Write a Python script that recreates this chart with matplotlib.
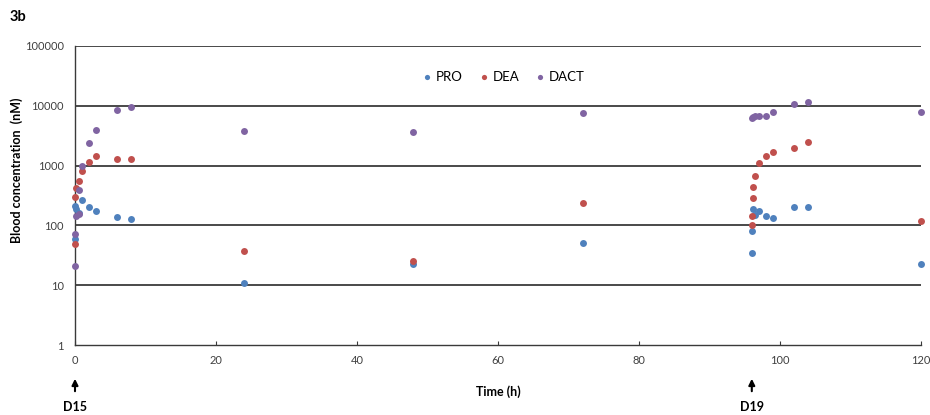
import matplotlib
matplotlib.use("Agg")
import matplotlib.pyplot as plt
from matplotlib.ticker import FixedLocator, FixedFormatter, NullLocator

plt.rcParams['font.family'] = ['Lato', 'DejaVu Sans']

series_names = ["PRO", "DEA", "DACT"]
colors = ["#4F81BD", "#C0504D", "#8064A2"]

pro_t = [0, 0, 0.17, 0.5, 1, 2, 3, 6, 8, 24, 48, 72, 96, 96, 96.1, 96.4, 97, 98, 99, 102, 104, 120]
pro_v = [59, 214, 188, 160, 266, 204, 176, 140, 128, 10.9, 23, 51, 34, 80, 190, 151, 176, 145, 134, 200, 200, 22.6]

dea_t = [0, 0, 0.1, 0.5, 1, 2, 3, 6, 8, 24, 48, 72, 96, 96, 96.1, 96.1, 96.4, 97, 98, 99, 102, 104, 120]
dea_v = [49, 295, 420, 550, 820, 1150, 1430, 1300, 1300, 37, 25.4, 237, 102, 142, 291, 440, 660, 1110, 1430, 1670, 1970, 2480, 119]

dact_t = [0, 0, 0.17, 0.5, 0.5, 1, 2, 3, 6, 8, 24, 48, 72, 96, 96.1, 96.4, 97, 98, 99, 102, 104, 120]
dact_v = [21, 71, 142, 155, 395, 980, 2360, 3940, 8500, 9700, 3800, 3700, 7600, 6300, 6500, 6700, 6850, 6700, 7780, 10700, 11700, 7900]

y_ticks = [1, 10, 100, 1000, 10000, 100000]
y_labels = ["1", "10", "100", "1000", "10000", "100000"]
x_ticks = [0, 20, 40, 60, 80, 100, 120]
x_labels = ["0", "20", "40", "60", "80", "100", "120"]

fig = plt.figure(figsize=(9.3, 4.15), dpi=100)
ax = fig.add_axes([75/930, 1-345/415, 846/930, 299/415])

for t, v, c, n in zip([pro_t, dea_t, dact_t], [pro_v, dea_v, dact_v], colors, series_names):
    ax.plot(t, v, 'o', color=c, markersize=5, markeredgewidth=0, label=n, zorder=3, clip_on=False)

ax.set_yscale('log')
ax.set_ylim(1, 100000)
ax.set_xlim(0, 120)
ax.yaxis.set_major_locator(FixedLocator(y_ticks))
ax.yaxis.set_major_formatter(FixedFormatter(y_labels))
ax.yaxis.set_minor_locator(NullLocator())
ax.xaxis.set_major_locator(FixedLocator(x_ticks))
ax.xaxis.set_major_formatter(FixedFormatter(x_labels))

for yv in y_ticks[1:]:
    ax.axhline(yv, color='#3a3a3a', lw=1.3, zorder=1)

for s in ['top', 'right']:
    ax.spines[s].set_visible(False)
ax.spines['left'].set_color('#3a3a3a')
ax.spines['bottom'].set_color('#3a3a3a')
ax.spines['left'].set_linewidth(1.0)
ax.spines['bottom'].set_linewidth(1.0)

ax.tick_params(axis='y', length=0, labelsize=8, labelcolor='#404040', pad=8)
ax.tick_params(axis='x', direction='in', length=3, color='#3a3a3a', labelsize=8, labelcolor='#404040', pad=7)

ax.set_xlabel("Time (h)", fontsize=9, fontweight='bold', labelpad=14)
fig.text(17/930, 1-170/415, "Blood concentration  (nM)", fontsize=9, fontweight='bold',
         rotation=90, ha='center', va='center')

leg = ax.legend(loc='upper center', bbox_to_anchor=(0.505, 0.955), ncol=3, frameon=False,
                fontsize=9.5, handletextpad=0.05, columnspacing=1.0, markerscale=0.75,
                handlelength=1.2)

fig.text(10/930, 1-17/415, "3b", fontsize=10.5, fontweight='bold', va='center', ha='left')

for xt, lab in [(0, "D15"), (96, "D19")]:
    xf = (75 + xt * 846/120) / 930
    ax.annotate("", xy=(xf, 1-376/415), xytext=(xf, 1-394/415), xycoords='figure fraction',
                textcoords='figure fraction',
                arrowprops=dict(arrowstyle='-|>', color='black', lw=1.5, mutation_scale=9))
    fig.text(xf, 1-407/415, lab, fontsize=9, fontweight='bold', ha='center', va='center')

fig.savefig("out.png", dpi=100)
